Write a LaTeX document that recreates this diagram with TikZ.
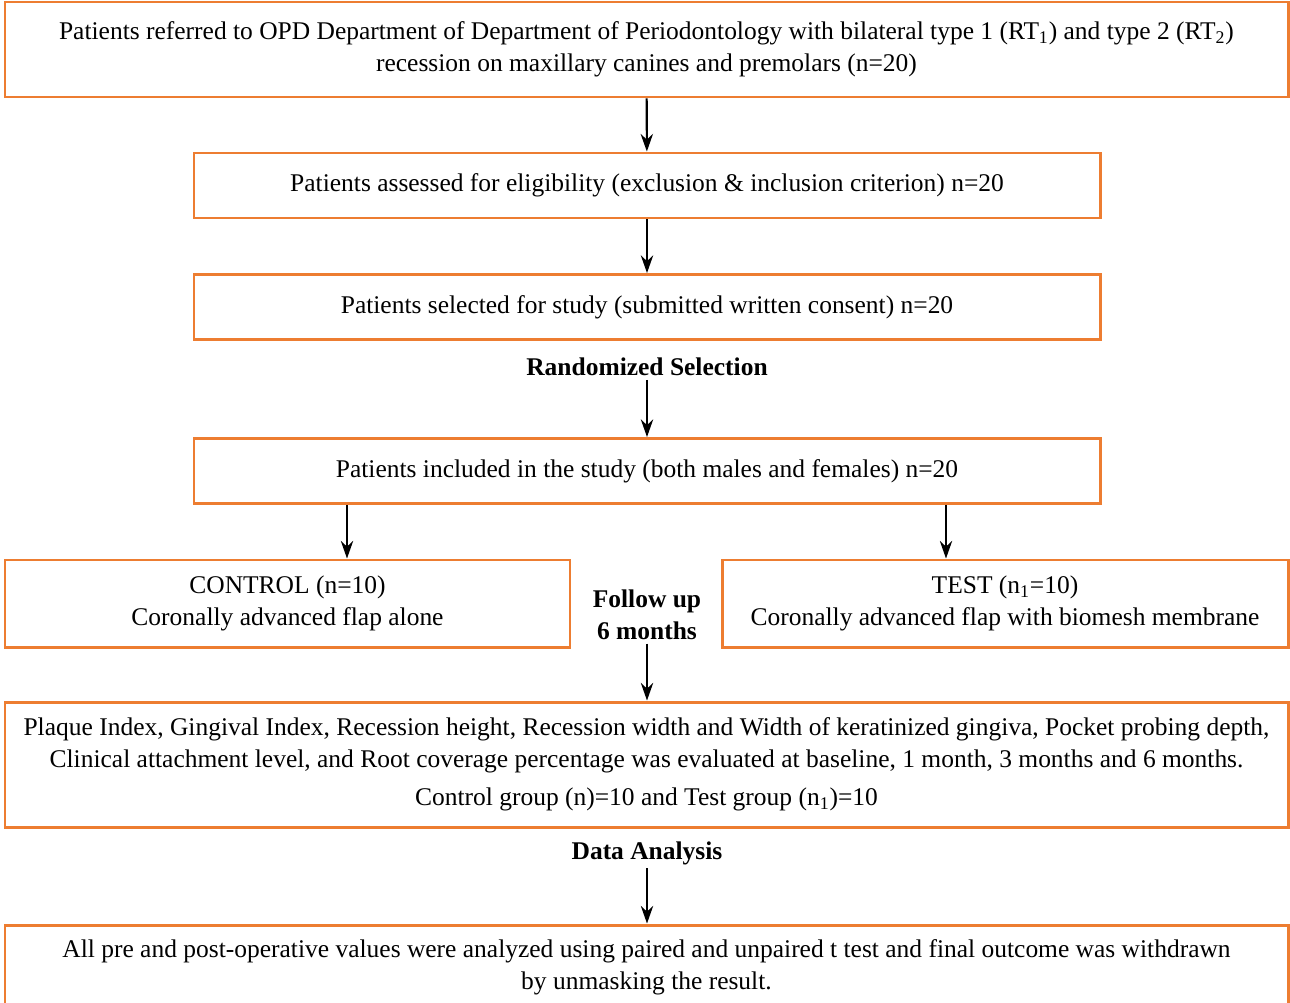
\documentclass[tikz,border=0pt]{standalone}
\usepackage{fontspec}
\setmainfont{Liberation Serif}
\usepackage{tikz}
\usetikzlibrary{arrows.meta,calc,positioning}
\definecolor{flowline}{RGB}{237,125,49}
\tikzset{
>={Stealth[length=10pt,width=7pt]},
  stage/.style={
    rectangle,
    draw=flowline, line width=1.7pt,
    align=center,
    font=\fontsize{14.5}{18}\selectfont,
    inner sep=0pt},
  step label/.style={
    align=center,
    inner sep=2pt,
    font=\fontsize{14.5}{18}\selectfont\bfseries},
  line/.style={draw, line width=1.2pt, ->},
}

\begin{document}
\begin{tikzpicture}[
    wide box/.style={stage, minimum width=25.66cm},
    mid box/.style={stage, minimum width=18.12cm, minimum height=1.3cm},
    arm box/.style={stage, minimum width=11.3cm, minimum height=1.74cm},
    every node/.style={color=black}
    ]

    \useasboundingbox (0,0) rectangle (25.8,-20.06);

    %boxes
    \node[wide box, minimum height=1.9cm] (referred) at (12.93,-0.99)
        {Patients referred to OPD Department of Department of Periodontology with bilateral type 1 (RT\textsubscript{1}) and type 2 (RT\textsubscript{2})\\
        recession on maxillary canines and premolars (n=20)};
    \node[mid box] (assessed) at (12.94,-3.71)
        {Patients assessed for eligibility (exclusion \& inclusion criterion) n=20};
    \node[mid box] (selected) at (12.94,-6.14)
        {Patients selected for study (submitted written consent) n=20};
    \node[step label] (random) at (12.94,-7.34) {Randomized Selection};
    \node[mid box] (included) at (12.94,-9.42)
        {Patients included in the study (both males and females) n=20};

    \node[arm box] (control) at (5.75,-12.07)
        {CONTROL (n=10)\\ Coronally advanced flap alone};
    \node[arm box, minimum width=11.32cm] (test) at (20.1,-12.07)
        {TEST (n\textsubscript{1}=10)\\ Coronally advanced flap with biomesh membrane};
    \node[step label] (followup) at (12.94,-12.3) {Follow up\\ 6 months};

    \node[wide box, minimum height=2.5cm] (params) at (12.93,-15.29)
        {Plaque Index, Gingival Index, Recession height, Recession width and Width of keratinized gingiva, Pocket probing depth,\\
        Clinical attachment level, and Root coverage percentage was evaluated at baseline, 1 month, 3 months and 6 months.\\[4pt]
        Control group (n)=10 and Test group (n\textsubscript{1})=10};
    \node[step label] (analysis) at (12.94,-17.06) {Data Analysis};
    \node[wide box, minimum height=1.7cm] (outcome) at (12.93,-19.35)
        {All pre and post-operative values were analyzed using paired and unpaired t test and final outcome was withdrawn\\
        by unmasking the result.};

    %arrows
    \draw[line] (referred) -- (assessed);
    \draw[line] (assessed) -- (selected);
    \draw[line] (random) -- (included);
    \draw[line] ([xshift=1.19cm]control.north |- included.south) -- ([xshift=1.19cm]control.north);
    \draw[line] ([xshift=-1.18cm]test.north |- included.south) -- ([xshift=-1.18cm]test.north);
    \draw[line] (followup.south) -- (followup.south |- params.north);
    \draw[line] (analysis) -- (analysis |- outcome.north);

\end{tikzpicture}
\end{document}
